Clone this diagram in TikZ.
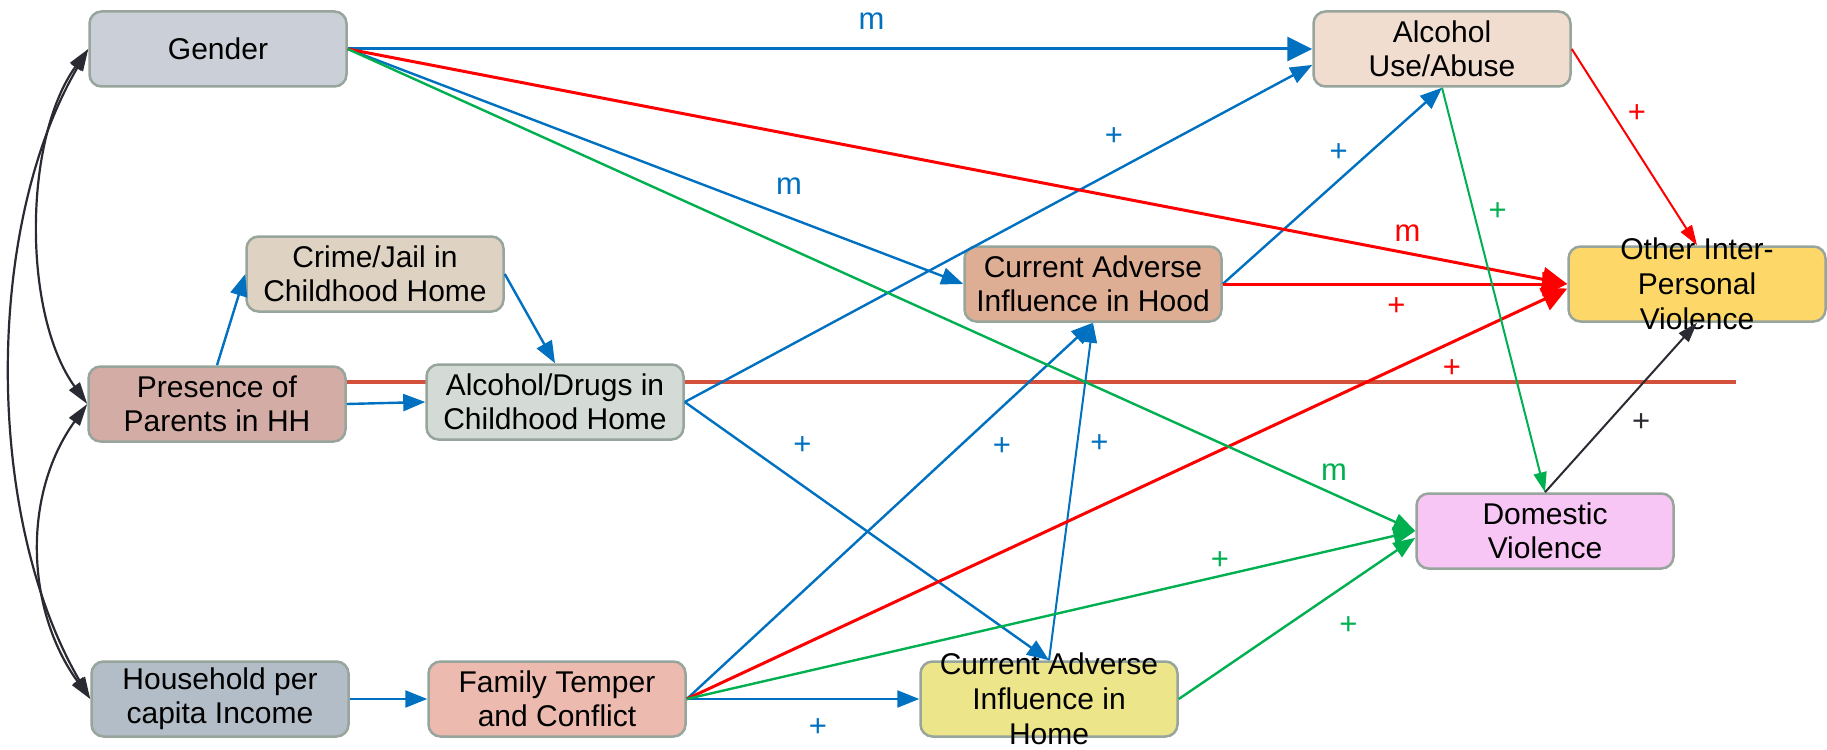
\documentclass[tikz,border=0pt]{standalone}
\usepackage{fontspec}
\setmainfont{Liberation Sans}
\usetikzlibrary{arrows.meta,backgrounds}

% connector colours
\definecolor{cblue}{HTML}{0070C0}
\definecolor{cred}{HTML}{FF0000}
\definecolor{cgreen}{HTML}{00B050}
\definecolor{cdark}{HTML}{2A2A33}
\definecolor{rim}{HTML}{97A59C}
\definecolor{divider}{HTML}{D2503C}
% box fills
\definecolor{fGender}{HTML}{CBD0D8}
\definecolor{fAlc}{HTML}{F0DDD0}
\definecolor{fCrime}{HTML}{DED3C3}
\definecolor{fHood}{HTML}{DDAE94}
\definecolor{fOth}{HTML}{FDD768}
\definecolor{fPres}{HTML}{D4ACA6}
\definecolor{fDrugs}{HTML}{D4DBD7}
\definecolor{fDom}{HTML}{F8C6F4}
\definecolor{fHouse}{HTML}{B3BDC7}
\definecolor{fFam}{HTML}{ECBAAF}
\definecolor{fHome}{HTML}{EDE589}

\begin{document}
\begin{tikzpicture}[x=1pt,y=-1pt,
  var/.style={draw=rim, line width=2.5pt, rounded corners=12pt,
    minimum width=257pt, minimum height=75pt, inner sep=0pt,
    align=center, font=\fontsize{30}{34}\selectfont},
  overtext/.style={font=\fontsize{30}{35}\selectfont, align=center, inner sep=0pt},
  lbl/.style={font=\fontsize{31}{36}\selectfont, inner sep=0pt},
  heavy/.style={line width=3pt, >={Triangle[length=25pt,width=24pt]}, ->},
  link/.style={line width=2.4pt, >={Triangle[length=22pt,width=17pt]}, ->},
  fine/.style={line width=2pt, >={Triangle[length=20pt,width=13pt]}, ->},
  cov/.style={cdark, line width=2.2pt, >={Triangle[length=22pt,width=13pt]}, <->},
]
\useasboundingbox (0,0) rectangle (1827,749);

% variables
\node[var, fill=fGender] (gen)   at (218,49)  {Gender};
\node[var, fill=fAlc]    (alc)   at (1442,49) {Alcohol\\Use/Abuse};
\node[var, fill=fCrime]  (crime) at (375,274) {Crime/Jail in\\Childhood Home};
\node[var, fill=fHood]   (hood)  at (1093,284) {Current Adverse\\Influence in Hood};
\node[var, fill=fOth, label={[overtext]center:Other Inter-\\Personal\\Violence}] (oth) at (1697,284) {};
\node[var, fill=fPres]   (pres)  at (217,404) {Presence of\\Parents in HH};
\node[var, fill=fDrugs]  (drugs) at (555,402) {Alcohol/Drugs in\\Childhood Home};
\node[var, fill=fDom]    (dom)   at (1545,531) {Domestic\\Violence};
\node[var, fill=fHouse]  (house) at (220,699) {Household per\\capita Income};
\node[var, fill=fFam]    (fam)   at (557,699) {Family Temper\\and Conflict};
\node[var, fill=fHome, label={[overtext]center:Current Adverse\\Influence in\\Home}] (home) at (1049,699) {};

% separator running behind the childhood boxes
\coordinate (sepend) at (1736,382);
\begin{pgfonlayer}{background}
\draw[divider, line width=4pt] ([yshift=22pt]pres.east) -- (sepend);
\end{pgfonlayer}

% correlations among the exogenous variables
\draw[cov] (gen.west) .. controls +(-65,90) and +(-65,-90) .. (pres.west);
\draw[cov] (pres.west) .. controls +(-65,90) and +(-65,-90) .. (house.west);
\draw[cov] (gen.west) .. controls +(-105,180) and +(-105,-180) .. (house.west);

% blue paths
\draw[heavy, cblue] (gen.east) -- node[lbl, pos=0.543, shift={(0,-28)}] {m} (alc.west);
\draw[link, cblue] (gen.east) -- node[lbl, pos=0.717, shift={(0,-31)}] {m} (hood.west);
\draw[link, cblue] (pres.east) -- (drugs.west);
\draw[link, cblue] (pres.north) -- (crime.west);
\draw[link, cblue] (crime.east) -- (drugs.north);
\draw[link, cblue] (drugs.east) -- node[lbl, pos=0.684, shift={(0,-35)}] {+} (alc.187);
\draw[link, cblue] (drugs.east) -- node[lbl, pos=0.323, shift={(0,-40)}] {+} (home.north);
\draw[link, cblue] (house.east) -- (fam.west);
\draw[link, cblue] (fam.east) -- node[lbl, pos=0.776, shift={(0,40)}] {+} (hood.south);
\draw[link, cblue] (fam.east) -- node[lbl, pos=0.564, shift={(0,29)}] {+} (home.west);
\draw[fine, cblue] (home.north) -- node[lbl, pos=0.643, shift={(22,0)}] {+} (hood.south);
\draw[link, cblue] (hood.east) -- node[lbl, pos=0.529, shift={(0,-28)}] {+} (alc.south);

% red paths
\draw[heavy, cred] (gen.east) -- node[lbl, pos=0.869, shift={(0,-20)}] {m} (oth.west);
\draw[heavy, cred] (hood.east) -- node[lbl, pos=0.504, shift={(0,23)}] {+} (oth.west);
\draw[heavy, cred] (fam.east) -- node[lbl, pos=0.869, shift={(0,26)}] {+} (oth.182);
\draw[fine, cred] (alc.east) -- node[lbl, pos=0.328, shift={(24,0)}] {+} (oth.north);

% green paths
\draw[link, cgreen] (gen.east) -- node[lbl, pos=0.924, shift={(0,-22)}] {m} (dom.west);
\draw[link, cgreen] (fam.east) -- node[lbl, pos=0.732, shift={(0,-15)}] {+} (dom.west);
\draw[link, cgreen] (home.east) -- node[lbl, pos=0.717, shift={(0,42)}] {+} (dom.183);
\draw[fine, cgreen] (alc.south) -- node[lbl, pos=0.307, shift={(24,0)}] {+} (dom.north);

% dark path
\draw[fine, cdark] (dom.north) -- node[lbl, pos=0.409, shift={(34,0)}] {+} (oth.south);
\end{tikzpicture}
\end{document}
